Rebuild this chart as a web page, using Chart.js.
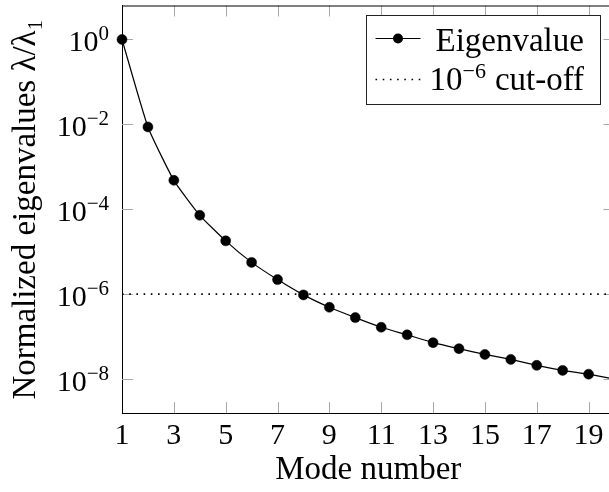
<!DOCTYPE html>
<html lang="en">
<head>
  <meta charset="UTF-8" />
  <title>Normalized eigenvalues</title>
  <script src="https://cdn.jsdelivr.net/npm/chart.js"></script>
  <style>
    html, body {
      margin: 0;
      padding: 0;
      overflow: hidden;
      background: #fff;
    }
    /* plot runs a few px past the window on the right, like the cropped original */
    .wrap {
      width: 620px;
      height: 492px;
    }
  </style>
</head>
<body>
  <div class="wrap"><canvas id="eigChart"></canvas></div>

  <script>
    const modes = [1, 2, 3, 4, 5, 6, 7, 8, 9, 10, 11, 12, 13, 14, 15, 16, 17, 18, 19, 20];
    const eigenvalues = [1, 8.7e-3, 4.8e-4, 7.2e-5, 1.8e-5, 5.6e-6, 2.2e-6, 9.6e-7, 4.9e-7, 2.8e-7,
                         1.66e-7, 1.1e-7, 7.2e-8, 5.2e-8, 3.8e-8, 2.9e-8, 2.1e-8, 1.6e-8, 1.3e-8, 1.0e-8];
    const cutoffX = [1, 20];
    const cutoffY = [1e-6, 1e-6];
    const xTicks = [1, 3, 5, 7, 9, 11, 13, 15, 17, 19];
    const yTickExponents = [0, -2, -4, -6, -8];

    const FONT = "'Liberation Serif', 'DejaVu Serif', serif";

    function supText(ctx, x, y, base, sup, size, supSize, rise) {
      ctx.font = size + 'px ' + FONT;
      ctx.fillText(base, x, y);
      const wb = ctx.measureText(base).width;
      ctx.font = supSize + 'px ' + FONT;
      ctx.fillText(sup, x + wb, y - rise);
      return wb + ctx.measureText(sup).width;
    }

    // inner ticks, top frame, y labels with exponents, legend
    const decor = {
      id: 'decor',
      beforeDatasetsDraw(chart) {
        const { ctx, chartArea: a, scales: { x, y } } = chart;
        ctx.save();
        ctx.strokeStyle = '#a8a8a8';
        ctx.lineWidth = 1;
        ctx.beginPath();
        xTicks.forEach(v => {
          if (v === x.min) return;
          const px = Math.round(x.getPixelForValue(v)) + 0.5;
          ctx.moveTo(px, a.bottom); ctx.lineTo(px, a.bottom - 11);
          ctx.moveTo(px, a.top); ctx.lineTo(px, a.top + 11);
        });
        yTickExponents.forEach(e => {
          const py = Math.round(y.getPixelForValue(Math.pow(10, e))) + 0.5;
          ctx.moveTo(a.left, py); ctx.lineTo(a.left + 11, py);
          ctx.moveTo(a.right, py); ctx.lineTo(a.right - 11, py);
        });
        ctx.stroke();
        ctx.strokeStyle = '#000';
        ctx.beginPath();
        ctx.moveTo(a.left, a.top + 0.5);
        ctx.lineTo(a.right, a.top + 0.5);
        ctx.stroke();
        ctx.restore();
      },
      afterDraw(chart) {
        const { ctx, chartArea: a, scales: { y } } = chart;
        ctx.save();
        ctx.fillStyle = '#000';
        ctx.textBaseline = 'alphabetic';
        ctx.textAlign = 'left';

        // y tick labels 10^k
        yTickExponents.forEach(e => {
          const py = y.getPixelForValue(Math.pow(10, e));
          const sup = e === 0 ? '0' : '\u2212' + Math.abs(e);
          ctx.font = '30px ' + FONT;
          const wb = ctx.measureText('10').width;
          ctx.font = '21px ' + FONT;
          const ws = ctx.measureText(sup).width;
          const right = a.left - 13;
          supText(ctx, right - ws - wb, py + 12, '10', sup, 30, 21, 11);
        });

        // legend
        const lx = 366.5, ly = 15.5, lw = 234, lh = 89;
        ctx.fillStyle = '#fff';
        ctx.fillRect(lx, ly, lw, lh);
        ctx.strokeStyle = '#222';
        ctx.lineWidth = 1;
        ctx.strokeRect(lx, ly, lw, lh);

        ctx.strokeStyle = '#000';
        ctx.lineWidth = 1.2;
        ctx.beginPath();
        ctx.moveTo(lx + 9, 38.5); ctx.lineTo(lx + 54, 38.5);
        ctx.stroke();
        ctx.fillStyle = '#000';
        ctx.beginPath();
        ctx.arc(lx + 31.5, 38.5, 5, 0, Math.PI * 2);
        ctx.fill();

        ctx.lineWidth = 1.6;
        ctx.setLineDash([1.6, 5.6]);
        ctx.beginPath();
        ctx.moveTo(lx + 9, 79.5); ctx.lineTo(lx + 56, 79.5);
        ctx.stroke();
        ctx.setLineDash([]);

        ctx.font = '33px ' + FONT;
        ctx.fillText('Eigenvalue', lx + 69, 50.5);
        const w = supText(ctx, lx + 63, 89.5, '10', '\u22126', 33, 22, 12);
        ctx.font = '33px ' + FONT;
        ctx.fillText('cut-off', lx + 63 + w + 9, 89.5);
        ctx.restore();
      }
    };

    const ctxEig = document.getElementById('eigChart').getContext('2d');
    new Chart(ctxEig, {
      type: 'line',
      data: {
        datasets: [
          {
            label: 'Eigenvalue',
            data: modes.map((m, i) => ({ x: m, y: eigenvalues[i] })),
            borderColor: '#000',
            backgroundColor: '#000',
            borderWidth: 1.2,
            pointRadius: 5,
            pointBorderWidth: 0.5,
            pointBackgroundColor: '#000',
            tension: 0.15,
            clip: { left: 8, top: 8, right: 0, bottom: 0 }
          },
          {
            label: '10^-6 cut-off',
            data: cutoffX.map((v, i) => ({ x: v, y: cutoffY[i] })),
            borderColor: '#000',
            borderWidth: 1.6,
            borderDash: [1.6, 5.6],
            pointRadius: 0
          }
        ]
      },
      options: {
        responsive: true,
        maintainAspectRatio: false,
        animation: false,
        layout: { padding: { top: 3, right: 4, left: 0, bottom: 0 } },
        plugins: {
          legend: { display: false },
          tooltip: { enabled: false }
        },
        scales: {
          x: {
            type: 'linear',
            min: 1,
            max: 20,
            afterBuildTicks: (scale) => { scale.ticks = xTicks.map(v => ({ value: v })); },
            afterFit: (scale) => { scale.height = 79; },
            grid: { display: false, drawTicks: false },
            border: { color: '#000', width: 1 },
            ticks: {
              color: '#000',
              padding: 5,
              maxRotation: 0,
              font: { family: FONT, size: 30 }
            },
            title: {
              display: true,
              text: 'Mode number',
              color: '#000',
              padding: { top: 0, bottom: 2 },
              font: { family: FONT, size: 33 }
            }
          },
          y: {
            type: 'logarithmic',
            min: Math.pow(10, -8.8),
            max: Math.pow(10, 0.8),
            afterFit: (scale) => { scale.width = 122; },
            grid: { display: false, drawTicks: false },
            border: { color: '#000', width: 1 },
            ticks: { display: false },
            title: {
              display: true,
              text: 'Normalized eigenvalues \u03bb/\u03bb\u2081',
              color: '#000',
              padding: { top: 7, bottom: 0 },
              font: { family: FONT, size: 33 }
            }
          }
        }
      },
      plugins: [decor]
    });
  </script>
</body>
</html>
